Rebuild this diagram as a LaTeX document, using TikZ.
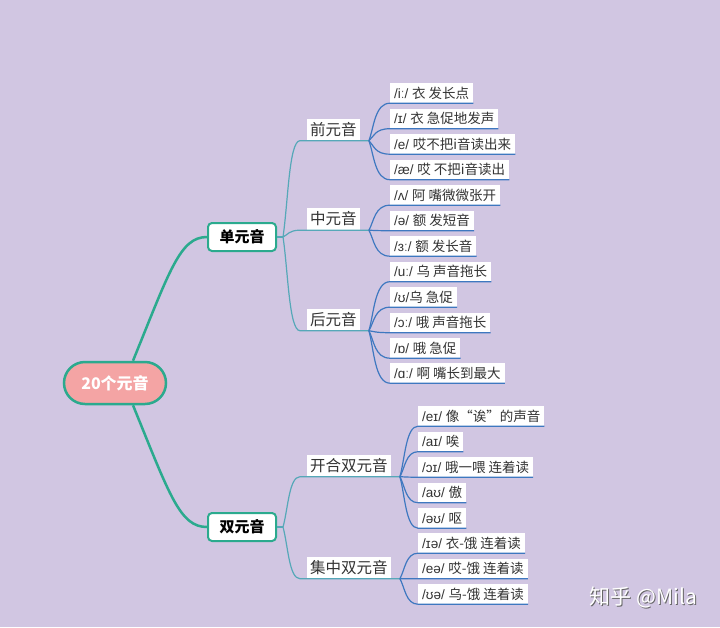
\documentclass[tikz,border=0pt]{standalone}
\usepackage{fontspec}
\setmainfont{Liberation Sans}
\newfontfamily\cjk{Noto Sans CJK SC}
\usetikzlibrary{calc}
\definecolor{bgcol}{RGB}{209,198,226}
\definecolor{rootpink}{RGB}{244,164,164}
\definecolor{teal}{RGB}{43,170,142}
\definecolor{branchcol}{RGB}{86,168,184}
\definecolor{twigcol}{RGB}{62,120,192}
\definecolor{txtgray}{RGB}{51,51,51}
\tikzset{>=latex}
\tikzstyle{rootnode}=[draw=teal,line width=2.5pt,fill=rootpink,rounded corners=21pt,minimum width=102pt,minimum height=42pt,text=white,font=\fontsize{16}{18}\selectfont\cjk\bfseries]
\tikzstyle{topic}=[draw=teal,line width=2pt,fill=white,rounded corners=4pt,minimum width=68pt,minimum height=28pt,text=black,font=\fontsize{15}{17}\selectfont\cjk\bfseries]
\tikzstyle{group}=[fill=white,anchor=west,minimum height=22pt,inner xsep=3pt,inner ysep=0pt,text=txtgray,font=\fontsize{15.5}{17}\selectfont\cjk]
\tikzstyle{leaf}=[fill=white,anchor=west,minimum height=20pt,inner xsep=4pt,inner ysep=0pt,text=txtgray,font=\fontsize{13.5}{15}\selectfont]
\tikzstyle{trunk}=[line width=2.5pt,color=teal]
\tikzstyle{branch}=[line width=1.2pt,color=branchcol]
\tikzstyle{twig}=[line width=1.2pt,color=twigcol]
\tikzstyle{elbow}=[to path={.. controls ($(\tikztostart)!0.35!(\tikztostart |- \tikztotarget)+(5,0)$) and ($(\tikztostart |- \tikztotarget)+(6,0)$) .. (\tikztotarget)}]
\tikzstyle{wm}=[font=\fontsize{21}{23}\selectfont\cjk]

\begin{document}
\begin{tikzpicture}[x=1pt,y=-1pt]

	\fill[bgcol] (0,0) rectangle (720,627);

	% Root and first level
	\node[rootnode] (root) at (115,383) {20个元音};
	\node[topic] (single) at (242,237) {单元音};
	\node[topic] (double) at (242,527) {双元音};
	\draw[trunk] ($(root.north)+(18,0)$) .. controls ($(single.west)+(-37,33)$) and ($(single.west)+(-27,0)$) .. (single.west);
	\draw[trunk] ($(root.south)+(18,0)$) .. controls ($(double.west)+(-37,-31)$) and ($(double.west)+(-27,0)$) .. (double.west);

	% Monophthongs
	\node[group] (front) at (307,129.5) {前元音};
	\node[group] (mid) at (307,219) {中元音};
	\node[group] (back) at (307,319.5) {后元音};
	\draw[branch] (single.east) -- ++(6,0) coordinate (singleB);
	\coordinate (frontL) at ($(front.south west)+(-7,0)$);
	\coordinate (frontR) at ($(front.south east)+(9,0)$);
	\coordinate (midL) at ($(mid.south west)+(-7,0)$);
	\coordinate (midR) at ($(mid.south east)+(9,0)$);
	\coordinate (backL) at ($(back.south west)+(-7,0)$);
	\coordinate (backR) at ($(back.south east)+(9,0)$);
	\draw[branch] (singleB) to[elbow] (frontL) -- (frontR);
	\draw[branch] (singleB) to[elbow] (midL) -- (midR);
	\draw[branch] (singleB) to[elbow] (backL) -- (backR);

	\node[leaf] (l1) at (390,93) {/iː/ \cjk 衣 发长点};
	\node[leaf] (l2) at (390,118.5) {/ɪ/ \cjk 衣 急促地发声};
	\node[leaf] (l3) at (390,144) {/e/ \cjk 哎不把i音读出来};
	\node[leaf] (l4) at (390,169.5) {/æ/ \cjk 哎 不把i音读出};
	\node[leaf] (l5) at (390,195) {/ʌ/ \cjk 阿 嘴微微张开};
	\node[leaf] (l6) at (390,220.5) {/ə/ \cjk 额 发短音};
	\node[leaf] (l7) at (390,246) {/ɜː/ \cjk 额 发长音};
	\node[leaf] (l8) at (390,271.5) {/uː/ \cjk 乌 声音拖长};
	\node[leaf] (l9) at (390,297) {/ʊ/\cjk 乌 急促};
	\node[leaf] (l10) at (390,322.5) {/ɔː/ \cjk 哦 声音拖长};
	\node[leaf] (l11) at (390,348) {/ɒ/ \cjk 哦 急促};
	\node[leaf] (l12) at (390,373) {/ɑː/ \cjk 啊 嘴长到最大};
	\draw[twig] (frontR) to[elbow] (l1.south west) -- (l1.south east);
	\draw[twig] (frontR) to[elbow] (l2.south west) -- (l2.south east);
	\draw[twig] (frontR) to[elbow] (l3.south west) -- (l3.south east);
	\draw[twig] (frontR) to[elbow] (l4.south west) -- (l4.south east);
	\draw[twig] (midR) to[elbow] (l5.south west) -- (l5.south east);
	\draw[twig] (midR) to[elbow] (l6.south west) -- (l6.south east);
	\draw[twig] (midR) to[elbow] (l7.south west) -- (l7.south east);
	\draw[twig] (backR) to[elbow] (l8.south west) -- (l8.south east);
	\draw[twig] (backR) to[elbow] (l9.south west) -- (l9.south east);
	\draw[twig] (backR) to[elbow] (l10.south west) -- (l10.south east);
	\draw[twig] (backR) to[elbow] (l11.south west) -- (l11.south east);
	\draw[twig] (backR) to[elbow] (l12.south west) -- (l12.south east);

	% Diphthongs
	\node[group] (closing) at (307,465.5) {开合双元音};
	\node[group] (centring) at (307,567.5) {集中双元音};
	\draw[branch] (double.east) -- ++(6,0) coordinate (doubleB);
	\coordinate (closingL) at ($(closing.south west)+(-7,0)$);
	\coordinate (closingR) at ($(closing.south east)+(9,0)$);
	\coordinate (centringL) at ($(centring.south west)+(-7,0)$);
	\coordinate (centringR) at ($(centring.south east)+(9,0)$);
	\draw[branch] (doubleB) to[elbow] (closingL) -- (closingR);
	\draw[branch] (doubleB) to[elbow] (centringL) -- (centringR);

	\node[leaf] (d1) at (418,416) {/eɪ/ \cjk 像“诶”的声音};
	\node[leaf] (d2) at (418,441.5) {/aɪ/ \cjk 唉};
	\node[leaf] (d3) at (418,467) {/ɔɪ/ \cjk 哦一喂 连着读};
	\node[leaf] (d4) at (418,492.5) {/aʊ/ \cjk 傲};
	\node[leaf] (d5) at (418,518) {/əʊ/ \cjk 呕};
	\node[leaf] (d6) at (418,543) {/ɪə/ \cjk 衣-饿 连着读};
	\node[leaf] (d7) at (418,568.5) {/eə/ \cjk 哎-饿 连着读};
	\node[leaf] (d8) at (418,594) {/ʊə/ \cjk 乌-饿 连着读};
	\draw[twig] (closingR) to[elbow] (d1.south west) -- (d1.south east);
	\draw[twig] (closingR) to[elbow] (d2.south west) -- (d2.south east);
	\draw[twig] (closingR) to[elbow] (d3.south west) -- (d3.south east);
	\draw[twig] (closingR) to[elbow] (d4.south west) -- (d4.south east);
	\draw[twig] (closingR) to[elbow] (d5.south west) -- (d5.south east);
	\draw[twig] (centringR) to[elbow] (d6.south west) -- (d6.south east);
	\draw[twig] (centringR) to[elbow] (d7.south west) -- (d7.south east);
	\draw[twig] (centringR) to[elbow] (d8.south west) -- (d8.south east);

	% Watermark
	\node[wm,text=black!60] (wmshade) at (644.5,598.5) {知乎 @Mila};
	\node[wm,text=white] (wmark) at (643.5,597.5) {知乎 @Mila};

\end{tikzpicture}
\end{document}
